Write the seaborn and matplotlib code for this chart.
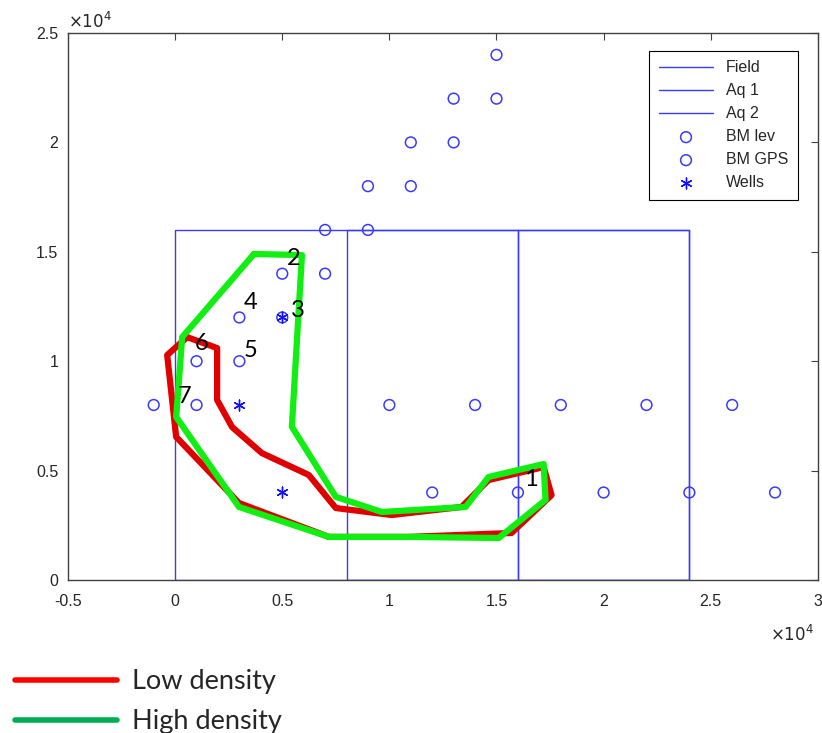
import matplotlib
matplotlib.use("Agg")
import matplotlib.pyplot as plt
from matplotlib.lines import Line2D
import seaborn as sns

# rectangles (field and aquifers)
field_x = [0, 24000, 24000, 0, 0]
field_y = [0, 0, 16000, 16000, 0]
aq1_x = [8000, 16000, 16000, 8000, 8000]
aq1_y = [0, 0, 16000, 16000, 0]
aq2_x = [16000, 24000, 24000, 16000, 16000]
aq2_y = [0, 0, 16000, 16000, 0]

# benchmarks
lev_x = [-1000, 1000, 10000, 14000, 18000, 22000, 26000, 12000, 16000, 20000, 24000, 28000]
lev_y = [8000, 8000, 8000, 8000, 8000, 8000, 8000, 4000, 4000, 4000, 4000, 4000]
gps_x = [1000, 3000, 3000, 5000, 5000, 7000, 7000, 9000, 9000, 11000, 11000, 13000, 13000, 15000, 15000]
gps_y = [10000, 10000, 12000, 12000, 14000, 14000, 16000, 16000, 18000, 18000, 20000, 20000, 22000, 22000, 24000]

# wells
wells_x = [3000, 5000, 5000]
wells_y = [8000, 4000, 12000]

# outlines
low_x = [560, 1960, 1960, 2660, 4050, 6240, 7500, 10110, 13370, 14630, 17200, 17570,
         15700, 10900, 7180, 2980, 50, -370, 560]
low_y = [11100, 10600, 8230, 6990, 5800, 4800, 3290, 2970, 3340, 4570, 5160, 3880,
         2150, 1970, 1970, 3520, 6540, 10280, 11100]
high_x = [3680, 5920, 5450, 7500, 9650, 13560, 14630, 17200, 17290, 15100, 10900, 7180,
          2980, 50, 330, 3680]
high_y = [14900, 14850, 7000, 3800, 3110, 3340, 4710, 5300, 3660, 1920, 1970, 1970,
          3340, 7450, 11100, 14900]

zone_labels = ["1", "2", "3", "4", "5", "6", "7"]
zone_x = [16600, 5550, 5750, 3500, 3500, 1250, 450]
zone_y = [4600, 14700, 12300, 12700, 10500, 10800, 8400]

sns.set_style("white")
plt.rcParams["font.family"] = ["Liberation Sans", "DejaVu Sans"]

fig = plt.figure(figsize=(8.22, 7.33), dpi=100)
ax = fig.add_axes([0.0827, 0.2087, 0.9123, 0.7463])

blue = "#3a3aff"
sns.lineplot(x=field_x, y=field_y, sort=False, estimator=None, color=blue, lw=1, label="Field", ax=ax)
sns.lineplot(x=aq1_x, y=aq1_y, sort=False, estimator=None, color=blue, lw=1, label="Aq 1", ax=ax)
sns.lineplot(x=aq2_x, y=aq2_y, sort=False, estimator=None, color=blue, lw=1, label="Aq 2", ax=ax)
sns.scatterplot(x=lev_x, y=lev_y, marker="o", s=60, facecolor="none", edgecolor=blue,
                linewidth=1.1, label="BM lev", ax=ax)
sns.scatterplot(x=gps_x, y=gps_y, marker="o", s=60, facecolor="none", edgecolor=blue,
                linewidth=1.1, label="BM GPS", ax=ax)
sns.scatterplot(x=wells_x, y=wells_y, marker=(6, 2, 0), s=60, color="#1010ff",
                linewidth=1.0, label="Wells", ax=ax)

sns.lineplot(x=low_x, y=low_y, sort=False, estimator=None, color="#e00000", lw=4.5, ax=ax)
sns.lineplot(x=high_x, y=high_y, sort=False, estimator=None, color="#11ee11", lw=4.5, ax=ax)

for t, x, y in zip(zone_labels, zone_x, zone_y):
    ax.text(x, y, t, fontsize=17, ha="center", va="center", color="black",
            family=["Lato", "DejaVu Sans"])

ax.set_xlim(-5000, 30000)
ax.set_ylim(0, 25000)
ax.set_xticks([-5000, 0, 5000, 10000, 15000, 20000, 25000, 30000])
ax.set_xticklabels(["-0.5", "0", "0.5", "1", "1.5", "2", "2.5", "3"])
ax.set_yticks([0, 5000, 10000, 15000, 20000, 25000])
ax.set_yticklabels(["0", "0.5", "1", "1.5", "2", "2.5"])
ax.tick_params(direction="in", length=5, width=0.8, colors="#404040", labelsize=11.5,
               top=True, right=True, labelcolor="#262626")
ax.tick_params(axis="x", pad=10)
ax.tick_params(axis="y", pad=7)
for s in ax.spines.values():
    s.set_color("#404040")
    s.set_linewidth(1)

ax.text(0.0, 1.003, r"$\times10^4$", transform=ax.transAxes, fontsize=12, color="#262626",
        ha="left", va="bottom")
ax.text(0.995, -0.08, r"$\times10^4$", transform=ax.transAxes, fontsize=12, color="#262626",
        ha="right", va="top")

leg = ax.legend(loc="upper right", bbox_to_anchor=(0.984, 0.982), fontsize=11.5,
                fancybox=False, edgecolor="black", framealpha=1, handlelength=3.4,
                labelspacing=0.5, borderpad=0.6)
leg.get_frame().set_linewidth(0.8)

handles = [Line2D([], [], color="#ff0000", lw=4), Line2D([], [], color="#00b050", lw=4)]
fig.legend(handles, ["Low density", "High density"], loc="lower left",
           bbox_to_anchor=(-0.012, -0.035), frameon=False, handlelength=3.8,
           labelspacing=0.55, handletextpad=0.55,
           prop={"family": ["Lato", "DejaVu Sans"], "size": 19.5})

fig.savefig("out.png", dpi=100)
